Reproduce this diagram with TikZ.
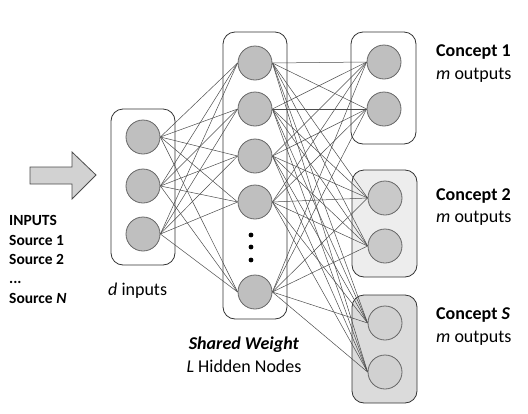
\documentclass[tikz,border=0pt]{standalone}
\usepackage{fontspec}
\setmainfont{Carlito}
\usetikzlibrary{backgrounds}
\tikzset{
  neuron/.style={circle, draw=black!60, line width=0.8pt, fill=gray!50, minimum size=34pt, inner sep=0pt},
  wire/.style={draw=black!70, line width=0.5pt},
  layer/.style={draw=black!80, line width=0.8pt, rounded corners=12pt},
  lbl/.style={inner sep=0pt, anchor=base west, font=\fontsize{18}{22}\selectfont},
  src/.style={inner sep=0pt, anchor=base west, font=\bfseries\fontsize{15.5}{19}\selectfont},
}
\begin{document}
\begin{tikzpicture}[x=1pt, y=-1pt]
      \useasboundingbox (0,0) rectangle (528,413);
      %
      \node[neuron] (in1) at (143,137) {};          % inputs
      \node[neuron] (in2) at (143,186) {};
      \node[neuron] (in3) at (143,234) {};
      %
      \node[neuron] (hid1) at (255,63) {};          % hidden
      \node[neuron] (hid2) at (255,109) {};
      \node[neuron] (hid3) at (255,156) {};
      \node[neuron] (hid4) at (255,202) {};
      \node[neuron] (hid5) at (255,292) {};
      \fill (251,235) circle (2.4);
      \fill (251,247) circle (2.4);
      \fill (251,260) circle (2.4);
      %
      \node[neuron] (out1) at (384,62) {};          % concept 1
      \node[neuron] (out2) at (384,109) {};
      \node[neuron, fill=gray!42] (out3) at (385,198) {};  % concept 2
      \node[neuron, fill=gray!42] (out4) at (385,246) {};
      \node[neuron, fill=gray!36] (out5) at (385,323) {};  % concept S
      \node[neuron, fill=gray!36] (out6) at (385,372) {};
      %
      \begin{scope}[on background layer]
        \draw[layer] (111,109) rectangle (175,265);  % input box
        \draw[layer] (223,32) rectangle (287,319);   % hidden box
        \draw[layer] (351,32) rectangle (416,144);   % concept boxes
        \draw[layer, fill=gray!14] (352,170) rectangle (417,277);
        \draw[layer, fill=gray!28] (352,295) rectangle (417,403);
        \foreach \i in {1,2,3}
          \foreach \h in {1,...,5}
            \draw[wire] (in\i.east) -- (hid\h.west);
        \foreach \h in {1,...,5}
          \foreach \o in {1,...,6}
            \draw[wire] (hid\h.east) -- (out\o.west);
      \end{scope}
      %
      \filldraw[fill=gray!35, draw=black!70, line width=0.8pt]
        (30,167) -- (72,167) -- (72,152) -- (96,175) -- (72,199) -- (72,184) -- (30,184) -- cycle; % arrow
      %
      \node[src] (inputs) at (9,225) {INPUTS};
      \node[src] (src1) at (9,245) {Source 1};
      \node[src] (src2) at (9,264) {Source 2};
      \node[src] (srcdots) at (9,283) {...};
      \node[src] (srcN) at (9,303) {Source \textit{N}};
      %
      \node[lbl] (dlbl) at (108,295) {\textit{d} inputs};
      \node[lbl, anchor=base] (shared) at (244,349) {\textbf{\textit{Shared Weight}}};
      \node[lbl, anchor=base] (hidlbl) at (244,372) {\textit{L} Hidden Nodes};
      %
      \node[lbl] (c1) at (436,56) {\textbf{Concept 1}};
      \node[lbl] (m1) at (436,79) {\textit{m} outputs};
      \node[lbl] (c2) at (436,200) {\textbf{Concept 2}};
      \node[lbl] (m2) at (436,222) {\textit{m} outputs};
      \node[lbl] (cS) at (436,319) {\textbf{Concept \textit{S}}};
      \node[lbl] (mS) at (436,342) {\textit{m} outputs};
    \end{tikzpicture}
\end{document}
